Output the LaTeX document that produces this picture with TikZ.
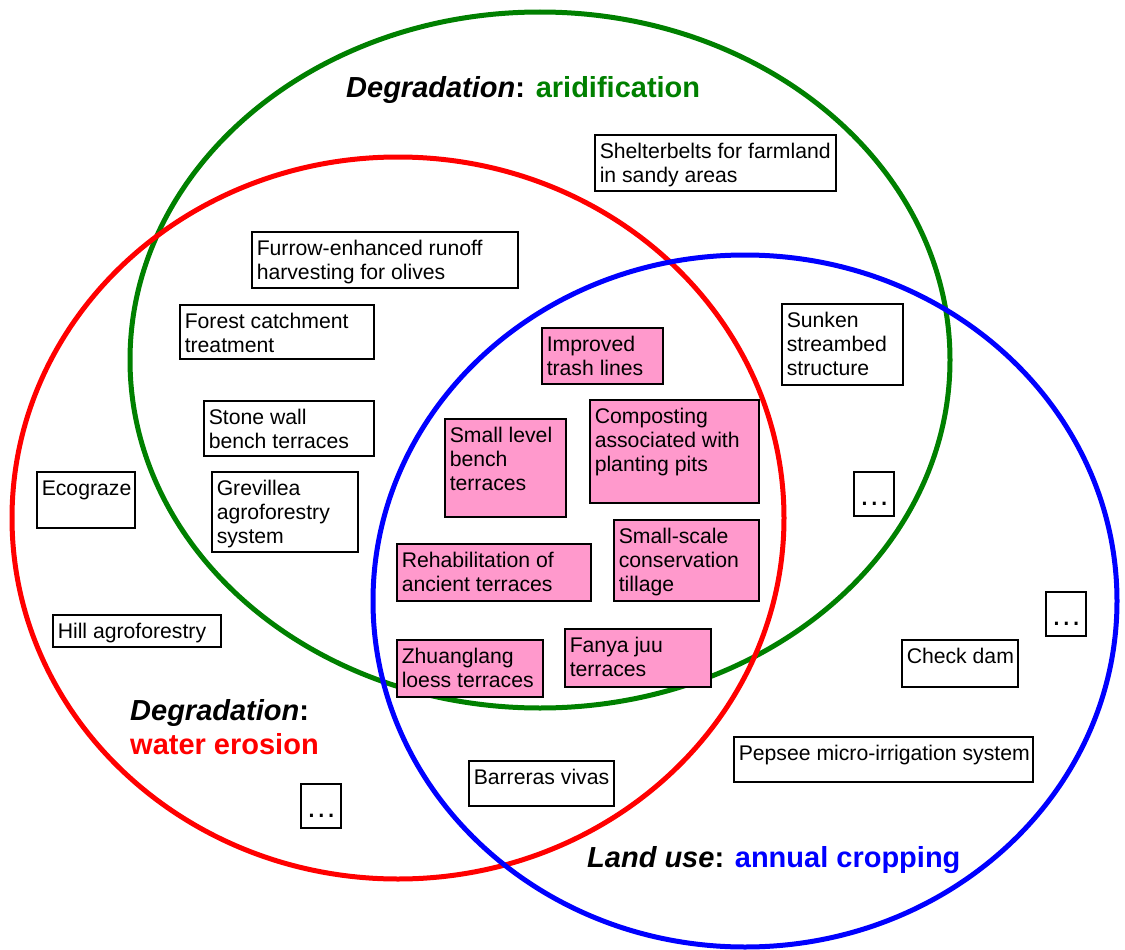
\documentclass[tikz,border=0pt]{standalone}
\usepackage{fontspec}
\setmainfont{Liberation Sans}
\definecolor{dgreen}{RGB}{0,128,0}
\definecolor{pinkfill}{RGB}{255,153,204}
\newcommand{\boxtxt}[4][24pt]{\parbox[c][#3][t]{\dimexpr#2-10pt\relax}{\rule{0pt}{#1}\begin{tabular}[t]{@{}l@{}}#4\end{tabular}}}
\newcommand{\dotstxt}{\parbox[c][44pt][t]{30pt}{\centering\rule{0pt}{34pt}{\fontsize{31}{31}\selectfont …}}}
\begin{document}
\begin{tikzpicture}[x=1pt,y=-1pt,
  wbox/.style={draw=black,line width=1.5pt,fill=white,inner xsep=5pt,inner ysep=0pt,anchor=north west,font=\fontsize{21.2}{24}\selectfont},
  pbox/.style={wbox,fill=pinkfill},
  ring/.style={line width=5pt},
  title/.style={anchor=base west,inner sep=0pt,font=\fontsize{29}{34}\selectfont\bfseries}]
\useasboundingbox (0,0) rectangle (1125,950);
% sets
\draw[ring,dgreen] (540,360) ellipse [x radius=410pt,y radius=348pt];
\draw[ring,red] (398,518) ellipse [x radius=386pt,y radius=361pt];
\draw[ring,blue] (745,601) ellipse [x radius=372pt,y radius=346pt];
% titles
\node[title] (tarid) at (346,98) {\itshape Degradation\upshape: \color{dgreen}aridification};
\node[title] (terosA) at (130,720) {\itshape Degradation\upshape:};
\node[title,text=red] (terosB) at (130,754) {water erosion};
\node[title] (tcrop) at (587,867) {\itshape Land use\upshape: \color{blue}annual cropping};
% white boxes
\node[wbox] (shelter) at (594,134) {\boxtxt{241pt}{56pt}{Shelterbelts for farmland\\in sandy areas}};
\node[wbox] (furrow) at (251,231) {\boxtxt{266pt}{56pt}{Furrow-enhanced runoff\\harvesting for olives}};
\node[wbox] (forest) at (179,304) {\boxtxt{194pt}{54pt}{Forest catchment\\treatment}};
\node[wbox] (stone) at (203,400) {\boxtxt{170pt}{55pt}{Stone wall\\bench terraces}};
\node[wbox] (grev) at (211,471) {\boxtxt{146pt}{80pt}{Grevillea\\agroforestry\\system}};
\node[wbox] (eco) at (36,471) {\boxtxt{98pt}{56pt}{Ecograze}};
\node[wbox] (hill) at (52,614) {\boxtxt{168pt}{32pt}{Hill agroforestry}};
\node[wbox] (sunken) at (781,303) {\boxtxt{121pt}{81pt}{Sunken\\streambed\\structure}};
\node[wbox] (dotsA) at (853,471) {\dotstxt};
\node[wbox] (dotsB) at (1045,591) {\dotstxt};
\node[wbox] (dotsC) at (300,783) {\dotstxt};
\node[wbox] (check) at (901,639) {\boxtxt{116pt}{47pt}{Check dam}};
\node[wbox] (pepsee) at (733,736) {\boxtxt{299pt}{45pt}{Pepsee micro-irrigation system}};
\node[wbox] (barreras) at (468,760) {\boxtxt{145pt}{45pt}{Barreras vivas}};
% pink boxes
\node[pbox] (trash) at (541,327) {\boxtxt{121pt}{56pt}{Improved\\trash lines}};
\node[pbox] (compost) at (589,399) {\boxtxt{169pt}{103pt}{Composting\\associated with\\planting pits}};
\node[pbox] (smalllevel) at (444,418) {\boxtxt{121pt}{98pt}{Small level\\bench\\terraces}};
\node[pbox] (rehab) at (396,543) {\boxtxt{194pt}{57pt}{Rehabilitation of\\ancient terraces}};
\node[pbox] (tillage) at (613,519) {\boxtxt{145pt}{81pt}{Small-scale\\conservation\\tillage}};
\node[pbox] (zhuang) at (396,639) {\boxtxt{146pt}{57pt}{Zhuanglang\\loess terraces}};
\node[pbox] (fanya) at (564,628) {\boxtxt{146pt}{58pt}{Fanya juu\\terraces}};
\end{tikzpicture}
\end{document}
